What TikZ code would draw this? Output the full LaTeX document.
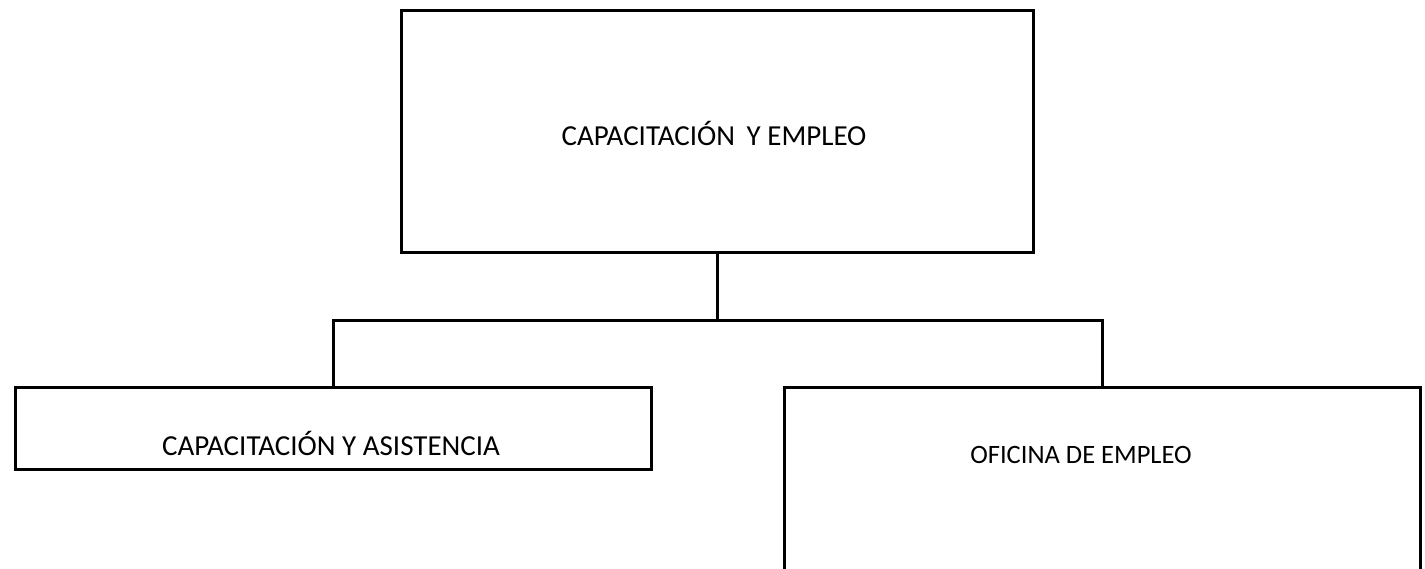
\documentclass[tikz,border=0pt]{standalone}
\usepackage{fontspec}
\setmainfont{Carlito}
\begin{document}
\begin{tikzpicture}[x=1pt,y=-1pt,
  box/.style={draw=black,line width=3pt,rectangle,inner sep=0pt},
  lbl/.style={font=\fontsize{29}{34}\selectfont,inner sep=0pt},
  lbls/.style={font=\fontsize{26.5}{32}\selectfont,inner sep=0pt},
  conn/.style={draw=black,line width=3pt}]
\useasboundingbox (0,0) rectangle (1425,569);
\clip (0,0) rectangle (1425,569);
\draw[box] (401,11) rectangle (1033,253);
\coordinate (topB) at (717,253);
\node[lbl] (t1) at (714,133) {CAPACITACIÓN\hspace{0.4em}Y EMPLEO};
\draw[box] (15,388) rectangle (651,469);
\node[lbl] (t2) at (331,443) {CAPACITACIÓN Y ASISTENCIA};
\draw[box] (784,388) rectangle (1420,600);
\node[lbls] (t3) at (1081,455) {OFICINA DE EMPLEO};
\coordinate (j) at (717,321);
\coordinate (jl) at (333,321);
\coordinate (jr) at (1102,321);
\coordinate (lt) at (333,388);
\coordinate (rt) at (1102,388);
\draw[conn] (topB) -- (j);
\draw[conn,line cap=rect] (jl) -- (jr);
\draw[conn] (jl) -- (lt);
\draw[conn] (jr) -- (rt);
\end{tikzpicture}
\end{document}
